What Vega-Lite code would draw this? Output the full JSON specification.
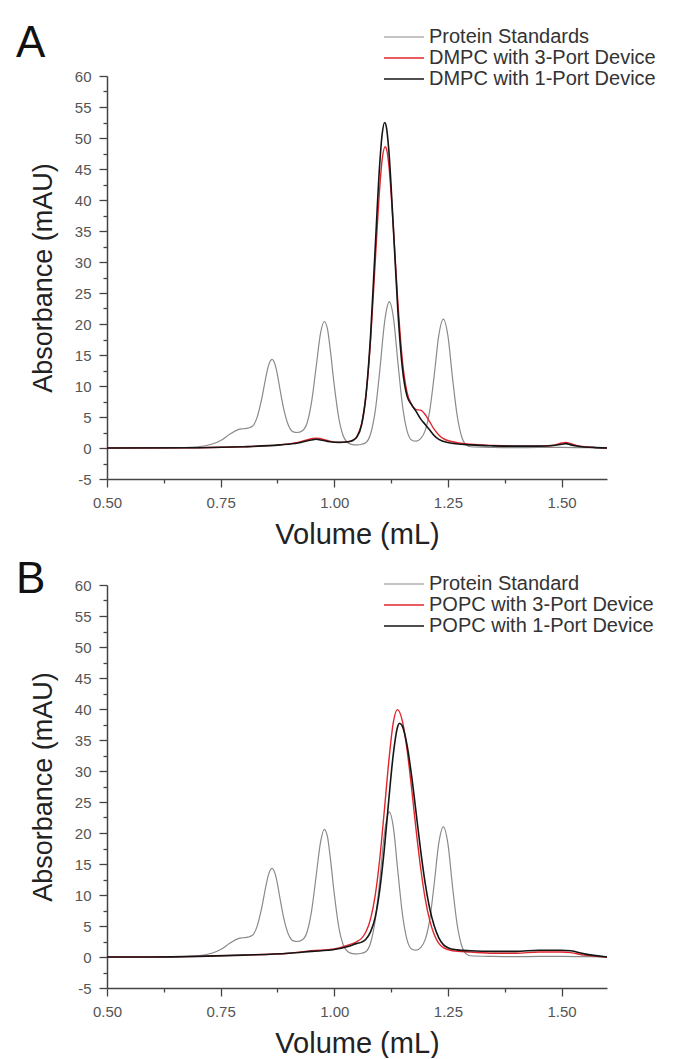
{
  "$schema": "https://vega.github.io/schema/vega-lite/v6.json",
  "background": "white",
  "padding": {"left": 16, "top": 22, "right": 5, "bottom": 0},
  "spacing": 9,
  "config": {
    "view": {"stroke": null},
    "font": "Liberation Sans",
    "axis": {
      "grid": false,
      "domainColor": "#444",
      "domainWidth": 1.5,
      "tickColor": "#444",
      "tickWidth": 1.3,
      "labelColor": "#555",
      "labelFont": "Liberation Sans",
      "labelFontSize": 15,
      "titleColor": "#222",
      "titleFont": "Liberation Sans",
      "titleFontWeight": "normal"
    },
    "legend": {
      "orient": "none",
      "title": null,
      "symbolType": "M-2,0H2",
      "symbolSize": 400,
      "symbolStrokeWidth": 2,
      "labelFont": "Liberation Sans",
      "labelFontSize": 20,
      "labelColor": "#333",
      "labelOffset": 14,
      "labelLimit": 0,
      "rowPadding": 0,
      "padding": 0
    },
    "title": {"font": "Liberation Sans", "fontSize": 44, "fontWeight": "normal", "color": "#111", "anchor": "start", "baseline": "alphabetic", "frame": "group"},
    "line": {"interpolate": "monotone"}
  },
  "datasets": {
    "a": [
      {"v":0.50,"s":"Protein Standards","a":0},{"v":0.60,"s":"Protein Standards","a":0},{"v":0.65,"s":"Protein Standards","a":0.05},{"v":0.70,"s":"Protein Standards","a":0.2},{"v":0.73,"s":"Protein Standards","a":0.6},{"v":0.75,"s":"Protein Standards","a":1.2},{"v":0.77,"s":"Protein Standards","a":2.2},{"v":0.79,"s":"Protein Standards","a":3.0},{"v":0.80,"s":"Protein Standards","a":3.1},{"v":0.81,"s":"Protein Standards","a":3.2},{"v":0.82,"s":"Protein Standards","a":3.5},{"v":0.83,"s":"Protein Standards","a":4.9},{"v":0.84,"s":"Protein Standards","a":7.8},{"v":0.85,"s":"Protein Standards","a":11.6},{"v":0.855,"s":"Protein Standards","a":13.2},{"v":0.863,"s":"Protein Standards","a":14.3},{"v":0.87,"s":"Protein Standards","a":13.4},{"v":0.875,"s":"Protein Standards","a":11.8},{"v":0.88,"s":"Protein Standards","a":9.7},{"v":0.89,"s":"Protein Standards","a":5.9},{"v":0.90,"s":"Protein Standards","a":3.5},{"v":0.91,"s":"Protein Standards","a":2.6},{"v":0.918,"s":"Protein Standards","a":2.5},{"v":0.93,"s":"Protein Standards","a":2.8},{"v":0.94,"s":"Protein Standards","a":4.0},{"v":0.95,"s":"Protein Standards","a":7.4},{"v":0.96,"s":"Protein Standards","a":13.0},{"v":0.97,"s":"Protein Standards","a":18.6},{"v":0.978,"s":"Protein Standards","a":20.4},{"v":0.985,"s":"Protein Standards","a":19.2},{"v":0.99,"s":"Protein Standards","a":16.6},{"v":1.00,"s":"Protein Standards","a":10.1},{"v":1.01,"s":"Protein Standards","a":4.8},{"v":1.02,"s":"Protein Standards","a":1.9},{"v":1.03,"s":"Protein Standards","a":0.85},{"v":1.04,"s":"Protein Standards","a":0.55},{"v":1.05,"s":"Protein Standards","a":0.5},{"v":1.06,"s":"Protein Standards","a":0.6},{"v":1.07,"s":"Protein Standards","a":0.9},{"v":1.08,"s":"Protein Standards","a":2.3},{"v":1.09,"s":"Protein Standards","a":5.9},{"v":1.10,"s":"Protein Standards","a":12.4},{"v":1.11,"s":"Protein Standards","a":19.9},{"v":1.115,"s":"Protein Standards","a":22.3},{"v":1.121,"s":"Protein Standards","a":23.6},{"v":1.13,"s":"Protein Standards","a":21.1},{"v":1.14,"s":"Protein Standards","a":13.8},{"v":1.15,"s":"Protein Standards","a":6.9},{"v":1.16,"s":"Protein Standards","a":2.8},{"v":1.17,"s":"Protein Standards","a":1.3},{"v":1.18,"s":"Protein Standards","a":1.1},{"v":1.19,"s":"Protein Standards","a":1.5},{"v":1.20,"s":"Protein Standards","a":2.8},{"v":1.21,"s":"Protein Standards","a":6.0},{"v":1.22,"s":"Protein Standards","a":11.8},{"v":1.23,"s":"Protein Standards","a":18.2},{"v":1.24,"s":"Protein Standards","a":20.8},{"v":1.25,"s":"Protein Standards","a":18.1},{"v":1.26,"s":"Protein Standards","a":11.4},{"v":1.27,"s":"Protein Standards","a":5.4},{"v":1.28,"s":"Protein Standards","a":1.9},{"v":1.29,"s":"Protein Standards","a":0.5},{"v":1.30,"s":"Protein Standards","a":0.2},{"v":1.35,"s":"Protein Standards","a":0.1},{"v":1.40,"s":"Protein Standards","a":0.05},{"v":1.45,"s":"Protein Standards","a":0.1},{"v":1.50,"s":"Protein Standards","a":0.1},{"v":1.55,"s":"Protein Standards","a":0.05},{"v":1.60,"s":"Protein Standards","a":0},

      {"v":0.50,"s":"DMPC with 3-Port Device","a":0},{"v":0.70,"s":"DMPC with 3-Port Device","a":0.05},{"v":0.80,"s":"DMPC with 3-Port Device","a":0.2},{"v":0.88,"s":"DMPC with 3-Port Device","a":0.5},{"v":0.92,"s":"DMPC with 3-Port Device","a":0.9},{"v":0.95,"s":"DMPC with 3-Port Device","a":1.5},{"v":0.96,"s":"DMPC with 3-Port Device","a":1.6},{"v":0.97,"s":"DMPC with 3-Port Device","a":1.5},{"v":0.99,"s":"DMPC with 3-Port Device","a":1.1},{"v":1.01,"s":"DMPC with 3-Port Device","a":0.9},{"v":1.03,"s":"DMPC with 3-Port Device","a":1.0},{"v":1.04,"s":"DMPC with 3-Port Device","a":1.2},{"v":1.05,"s":"DMPC with 3-Port Device","a":1.9},{"v":1.06,"s":"DMPC with 3-Port Device","a":3.9},{"v":1.07,"s":"DMPC with 3-Port Device","a":8.7},{"v":1.08,"s":"DMPC with 3-Port Device","a":17.5},{"v":1.09,"s":"DMPC with 3-Port Device","a":29.9},{"v":1.10,"s":"DMPC with 3-Port Device","a":42.0},{"v":1.105,"s":"DMPC with 3-Port Device","a":46.3},{"v":1.112,"s":"DMPC with 3-Port Device","a":48.6},{"v":1.115,"s":"DMPC with 3-Port Device","a":48.2},{"v":1.12,"s":"DMPC with 3-Port Device","a":45.7},{"v":1.13,"s":"DMPC with 3-Port Device","a":35.5},{"v":1.14,"s":"DMPC with 3-Port Device","a":23.4},{"v":1.15,"s":"DMPC with 3-Port Device","a":14.0},{"v":1.16,"s":"DMPC with 3-Port Device","a":9.0},{"v":1.17,"s":"DMPC with 3-Port Device","a":7.0},{"v":1.18,"s":"DMPC with 3-Port Device","a":6.2},{"v":1.19,"s":"DMPC with 3-Port Device","a":6.1},{"v":1.20,"s":"DMPC with 3-Port Device","a":5.4},{"v":1.21,"s":"DMPC with 3-Port Device","a":4.2},{"v":1.22,"s":"DMPC with 3-Port Device","a":3.0},{"v":1.23,"s":"DMPC with 3-Port Device","a":2.1},{"v":1.24,"s":"DMPC with 3-Port Device","a":1.5},{"v":1.26,"s":"DMPC with 3-Port Device","a":1.0},{"v":1.30,"s":"DMPC with 3-Port Device","a":0.6},{"v":1.35,"s":"DMPC with 3-Port Device","a":0.4},{"v":1.40,"s":"DMPC with 3-Port Device","a":0.3},{"v":1.45,"s":"DMPC with 3-Port Device","a":0.3},{"v":1.48,"s":"DMPC with 3-Port Device","a":0.4},{"v":1.50,"s":"DMPC with 3-Port Device","a":0.8},{"v":1.51,"s":"DMPC with 3-Port Device","a":0.9},{"v":1.52,"s":"DMPC with 3-Port Device","a":0.7},{"v":1.54,"s":"DMPC with 3-Port Device","a":0.3},{"v":1.57,"s":"DMPC with 3-Port Device","a":0.1},{"v":1.60,"s":"DMPC with 3-Port Device","a":0},

      {"v":0.50,"s":"DMPC with 1-Port Device","a":0},{"v":0.70,"s":"DMPC with 1-Port Device","a":0.05},{"v":0.80,"s":"DMPC with 1-Port Device","a":0.2},{"v":0.88,"s":"DMPC with 1-Port Device","a":0.5},{"v":0.92,"s":"DMPC with 1-Port Device","a":0.8},{"v":0.95,"s":"DMPC with 1-Port Device","a":1.3},{"v":0.96,"s":"DMPC with 1-Port Device","a":1.4},{"v":0.97,"s":"DMPC with 1-Port Device","a":1.3},{"v":0.99,"s":"DMPC with 1-Port Device","a":1.0},{"v":1.01,"s":"DMPC with 1-Port Device","a":0.9},{"v":1.03,"s":"DMPC with 1-Port Device","a":1.0},{"v":1.04,"s":"DMPC with 1-Port Device","a":1.2},{"v":1.05,"s":"DMPC with 1-Port Device","a":1.8},{"v":1.06,"s":"DMPC with 1-Port Device","a":3.7},{"v":1.07,"s":"DMPC with 1-Port Device","a":8.7},{"v":1.08,"s":"DMPC with 1-Port Device","a":18.3},{"v":1.09,"s":"DMPC with 1-Port Device","a":32.2},{"v":1.10,"s":"DMPC with 1-Port Device","a":45.8},{"v":1.105,"s":"DMPC with 1-Port Device","a":50.4},{"v":1.111,"s":"DMPC with 1-Port Device","a":52.5},{"v":1.115,"s":"DMPC with 1-Port Device","a":51.6},{"v":1.12,"s":"DMPC with 1-Port Device","a":48.0},{"v":1.13,"s":"DMPC with 1-Port Device","a":35.5},{"v":1.14,"s":"DMPC with 1-Port Device","a":22.0},{"v":1.15,"s":"DMPC with 1-Port Device","a":12.8},{"v":1.16,"s":"DMPC with 1-Port Device","a":8.4},{"v":1.17,"s":"DMPC with 1-Port Device","a":7.0},{"v":1.18,"s":"DMPC with 1-Port Device","a":5.9},{"v":1.19,"s":"DMPC with 1-Port Device","a":4.7},{"v":1.20,"s":"DMPC with 1-Port Device","a":3.8},{"v":1.21,"s":"DMPC with 1-Port Device","a":2.9},{"v":1.22,"s":"DMPC with 1-Port Device","a":2.0},{"v":1.23,"s":"DMPC with 1-Port Device","a":1.4},{"v":1.25,"s":"DMPC with 1-Port Device","a":0.9},{"v":1.30,"s":"DMPC with 1-Port Device","a":0.5},{"v":1.35,"s":"DMPC with 1-Port Device","a":0.35},{"v":1.40,"s":"DMPC with 1-Port Device","a":0.3},{"v":1.45,"s":"DMPC with 1-Port Device","a":0.3},{"v":1.48,"s":"DMPC with 1-Port Device","a":0.4},{"v":1.50,"s":"DMPC with 1-Port Device","a":0.6},{"v":1.51,"s":"DMPC with 1-Port Device","a":0.7},{"v":1.52,"s":"DMPC with 1-Port Device","a":0.5},{"v":1.54,"s":"DMPC with 1-Port Device","a":0.25},{"v":1.57,"s":"DMPC with 1-Port Device","a":0.1},{"v":1.60,"s":"DMPC with 1-Port Device","a":0}
    ],
    "b": [
      {"v":0.50,"s":"Protein Standard","a":0},{"v":0.60,"s":"Protein Standard","a":0},{"v":0.65,"s":"Protein Standard","a":0.05},{"v":0.70,"s":"Protein Standard","a":0.2},{"v":0.73,"s":"Protein Standard","a":0.6},{"v":0.75,"s":"Protein Standard","a":1.2},{"v":0.77,"s":"Protein Standard","a":2.2},{"v":0.79,"s":"Protein Standard","a":3.0},{"v":0.80,"s":"Protein Standard","a":3.1},{"v":0.81,"s":"Protein Standard","a":3.2},{"v":0.82,"s":"Protein Standard","a":3.5},{"v":0.83,"s":"Protein Standard","a":4.9},{"v":0.84,"s":"Protein Standard","a":7.8},{"v":0.85,"s":"Protein Standard","a":11.6},{"v":0.855,"s":"Protein Standard","a":13.2},{"v":0.863,"s":"Protein Standard","a":14.3},{"v":0.87,"s":"Protein Standard","a":13.4},{"v":0.875,"s":"Protein Standard","a":11.8},{"v":0.88,"s":"Protein Standard","a":9.7},{"v":0.89,"s":"Protein Standard","a":5.9},{"v":0.90,"s":"Protein Standard","a":3.5},{"v":0.91,"s":"Protein Standard","a":2.6},{"v":0.918,"s":"Protein Standard","a":2.5},{"v":0.93,"s":"Protein Standard","a":2.8},{"v":0.94,"s":"Protein Standard","a":4.0},{"v":0.95,"s":"Protein Standard","a":7.4},{"v":0.96,"s":"Protein Standard","a":13.0},{"v":0.97,"s":"Protein Standard","a":18.6},{"v":0.978,"s":"Protein Standard","a":20.6},{"v":0.985,"s":"Protein Standard","a":19.4},{"v":0.99,"s":"Protein Standard","a":16.8},{"v":1.00,"s":"Protein Standard","a":10.2},{"v":1.01,"s":"Protein Standard","a":4.8},{"v":1.02,"s":"Protein Standard","a":1.9},{"v":1.03,"s":"Protein Standard","a":0.85},{"v":1.04,"s":"Protein Standard","a":0.55},{"v":1.05,"s":"Protein Standard","a":0.5},{"v":1.06,"s":"Protein Standard","a":0.6},{"v":1.07,"s":"Protein Standard","a":0.9},{"v":1.08,"s":"Protein Standard","a":2.3},{"v":1.09,"s":"Protein Standard","a":5.9},{"v":1.10,"s":"Protein Standard","a":12.3},{"v":1.11,"s":"Protein Standard","a":19.7},{"v":1.115,"s":"Protein Standard","a":22.1},{"v":1.121,"s":"Protein Standard","a":23.4},{"v":1.13,"s":"Protein Standard","a":20.9},{"v":1.14,"s":"Protein Standard","a":13.7},{"v":1.15,"s":"Protein Standard","a":6.9},{"v":1.16,"s":"Protein Standard","a":2.8},{"v":1.17,"s":"Protein Standard","a":1.3},{"v":1.18,"s":"Protein Standard","a":1.1},{"v":1.19,"s":"Protein Standard","a":1.5},{"v":1.20,"s":"Protein Standard","a":2.8},{"v":1.21,"s":"Protein Standard","a":6.0},{"v":1.22,"s":"Protein Standard","a":11.9},{"v":1.23,"s":"Protein Standard","a":18.4},{"v":1.24,"s":"Protein Standard","a":21.0},{"v":1.25,"s":"Protein Standard","a":18.3},{"v":1.26,"s":"Protein Standard","a":11.5},{"v":1.27,"s":"Protein Standard","a":5.4},{"v":1.28,"s":"Protein Standard","a":1.9},{"v":1.29,"s":"Protein Standard","a":0.5},{"v":1.30,"s":"Protein Standard","a":0.2},{"v":1.35,"s":"Protein Standard","a":0.1},{"v":1.40,"s":"Protein Standard","a":0.05},{"v":1.45,"s":"Protein Standard","a":0.1},{"v":1.50,"s":"Protein Standard","a":0.1},{"v":1.55,"s":"Protein Standard","a":0.05},{"v":1.60,"s":"Protein Standard","a":0},

      {"v":0.50,"s":"POPC with 3-Port Device","a":0},{"v":0.60,"s":"POPC with 3-Port Device","a":0},{"v":0.70,"s":"POPC with 3-Port Device","a":0.1},{"v":0.80,"s":"POPC with 3-Port Device","a":0.3},{"v":0.90,"s":"POPC with 3-Port Device","a":0.6},{"v":0.95,"s":"POPC with 3-Port Device","a":1.0},{"v":1.00,"s":"POPC with 3-Port Device","a":1.3},{"v":1.03,"s":"POPC with 3-Port Device","a":1.9},{"v":1.05,"s":"POPC with 3-Port Device","a":2.5},{"v":1.06,"s":"POPC with 3-Port Device","a":3.0},{"v":1.07,"s":"POPC with 3-Port Device","a":4.1},{"v":1.08,"s":"POPC with 3-Port Device","a":6.2},{"v":1.09,"s":"POPC with 3-Port Device","a":9.9},{"v":1.10,"s":"POPC with 3-Port Device","a":15.8},{"v":1.11,"s":"POPC with 3-Port Device","a":23.5},{"v":1.12,"s":"POPC with 3-Port Device","a":31.6},{"v":1.13,"s":"POPC with 3-Port Device","a":37.9},{"v":1.139,"s":"POPC with 3-Port Device","a":39.9},{"v":1.15,"s":"POPC with 3-Port Device","a":38.0},{"v":1.16,"s":"POPC with 3-Port Device","a":33.5},{"v":1.17,"s":"POPC with 3-Port Device","a":27.3},{"v":1.18,"s":"POPC with 3-Port Device","a":20.5},{"v":1.19,"s":"POPC with 3-Port Device","a":14.4},{"v":1.20,"s":"POPC with 3-Port Device","a":9.4},{"v":1.21,"s":"POPC with 3-Port Device","a":5.9},{"v":1.22,"s":"POPC with 3-Port Device","a":3.6},{"v":1.23,"s":"POPC with 3-Port Device","a":2.2},{"v":1.24,"s":"POPC with 3-Port Device","a":1.5},{"v":1.26,"s":"POPC with 3-Port Device","a":1.0},{"v":1.30,"s":"POPC with 3-Port Device","a":0.8},{"v":1.35,"s":"POPC with 3-Port Device","a":0.6},{"v":1.40,"s":"POPC with 3-Port Device","a":0.6},{"v":1.45,"s":"POPC with 3-Port Device","a":0.8},{"v":1.50,"s":"POPC with 3-Port Device","a":0.8},{"v":1.52,"s":"POPC with 3-Port Device","a":0.7},{"v":1.55,"s":"POPC with 3-Port Device","a":0.3},{"v":1.60,"s":"POPC with 3-Port Device","a":0},

      {"v":0.50,"s":"POPC with 1-Port Device","a":0},{"v":0.60,"s":"POPC with 1-Port Device","a":0},{"v":0.70,"s":"POPC with 1-Port Device","a":0.1},{"v":0.80,"s":"POPC with 1-Port Device","a":0.3},{"v":0.90,"s":"POPC with 1-Port Device","a":0.6},{"v":0.95,"s":"POPC with 1-Port Device","a":0.9},{"v":1.00,"s":"POPC with 1-Port Device","a":1.2},{"v":1.03,"s":"POPC with 1-Port Device","a":1.7},{"v":1.05,"s":"POPC with 1-Port Device","a":2.2},{"v":1.06,"s":"POPC with 1-Port Device","a":2.4},{"v":1.07,"s":"POPC with 1-Port Device","a":2.9},{"v":1.08,"s":"POPC with 1-Port Device","a":4.1},{"v":1.09,"s":"POPC with 1-Port Device","a":6.4},{"v":1.10,"s":"POPC with 1-Port Device","a":10.8},{"v":1.11,"s":"POPC with 1-Port Device","a":17.3},{"v":1.12,"s":"POPC with 1-Port Device","a":25.4},{"v":1.13,"s":"POPC with 1-Port Device","a":32.8},{"v":1.14,"s":"POPC with 1-Port Device","a":37.3},{"v":1.144,"s":"POPC with 1-Port Device","a":37.7},{"v":1.15,"s":"POPC with 1-Port Device","a":37.2},{"v":1.16,"s":"POPC with 1-Port Device","a":34.2},{"v":1.17,"s":"POPC with 1-Port Device","a":29.3},{"v":1.18,"s":"POPC with 1-Port Device","a":23.3},{"v":1.19,"s":"POPC with 1-Port Device","a":17.2},{"v":1.20,"s":"POPC with 1-Port Device","a":11.9},{"v":1.21,"s":"POPC with 1-Port Device","a":7.8},{"v":1.22,"s":"POPC with 1-Port Device","a":5.0},{"v":1.23,"s":"POPC with 1-Port Device","a":3.1},{"v":1.24,"s":"POPC with 1-Port Device","a":2.0},{"v":1.25,"s":"POPC with 1-Port Device","a":1.5},{"v":1.27,"s":"POPC with 1-Port Device","a":1.15},{"v":1.30,"s":"POPC with 1-Port Device","a":1.0},{"v":1.35,"s":"POPC with 1-Port Device","a":0.9},{"v":1.40,"s":"POPC with 1-Port Device","a":0.9},{"v":1.45,"s":"POPC with 1-Port Device","a":1.1},{"v":1.50,"s":"POPC with 1-Port Device","a":1.1},{"v":1.52,"s":"POPC with 1-Port Device","a":1.0},{"v":1.55,"s":"POPC with 1-Port Device","a":0.5},{"v":1.60,"s":"POPC with 1-Port Device","a":0}
    ]
  },
  "resolve": {"scale": {"color": "independent", "strokeWidth": "independent"}},
  "vconcat": [
    {
      "width": 500,
      "height": 403,
      "title": {"text": "A", "dx": -91, "offset": -40},
      "data": {"name": "a"},
      "mark": {"type": "line", "interpolate": "monotone"},
      "encoding": {
        "x": {"field": "v", "type": "quantitative", "title": "Volume (mL)",
          "scale": {"domain": [0.5, 1.6], "nice": false, "zero": false},
          "axis": {"values": [0.5, 0.625, 0.75, 0.875, 1.0, 1.125, 1.25, 1.375, 1.5],
            "labelExpr": "abs(datum.value*4 - round(datum.value*4)) < 0.001 ? format(datum.value, '.2f') : ''",
            "tickSize": {"condition": {"test": "abs(datum.value*4 - round(datum.value*4)) > 0.001", "value": 4}, "value": 8},
            "labelPadding": 8, "labelFlush": false, "labelOverlap": false, "titleFontSize": 29, "titlePadding": 10}},
        "y": {"field": "a", "type": "quantitative", "title": "Absorbance (mAU)",
          "scale": {"domain": [-5, 60], "nice": false, "zero": false},
          "axis": {"values": [-5, -2.5, 0, 2.5, 5, 7.5, 10, 12.5, 15, 17.5, 20, 22.5, 25, 27.5, 30, 32.5, 35, 37.5, 40, 42.5, 45, 47.5, 50, 52.5, 55, 57.5, 60],
            "labelExpr": "datum.value % 5 === 0 ? '' + datum.value : ''",
            "tickSize": {"condition": {"test": "datum.value % 5 !== 0", "value": 4}, "value": 8},
            "labelPadding": 8, "labelFlush": false, "labelOverlap": false, "titleFontSize": 27, "titlePadding": 17}},
        "color": {"field": "s", "type": "nominal",
          "scale": {"domain": ["Protein Standards", "DMPC with 3-Port Device", "DMPC with 1-Port Device"], "range": ["#8a8a8a", "#e0262c", "#151515"]},
          "legend": {"legendX": 286, "legendY": -50, "labelLimit": 0, "labelFontSize": 20}},
        "strokeWidth": {"field": "s", "type": "nominal",
          "scale": {"domain": ["Protein Standards", "DMPC with 3-Port Device", "DMPC with 1-Port Device"], "range": [1.2, 1.6, 1.6]},
          "legend": null}
      }
    },
    {
      "width": 500,
      "height": 403,
      "title": {"text": "B", "dx": -91, "offset": -29},
      "data": {"name": "b"},
      "mark": {"type": "line", "interpolate": "monotone"},
      "encoding": {
        "x": {"field": "v", "type": "quantitative", "title": "Volume (mL)",
          "scale": {"domain": [0.5, 1.6], "nice": false, "zero": false},
          "axis": {"values": [0.5, 0.625, 0.75, 0.875, 1.0, 1.125, 1.25, 1.375, 1.5],
            "labelExpr": "abs(datum.value*4 - round(datum.value*4)) < 0.001 ? format(datum.value, '.2f') : ''",
            "tickSize": {"condition": {"test": "abs(datum.value*4 - round(datum.value*4)) > 0.001", "value": 4}, "value": 8},
            "labelPadding": 8, "labelFlush": false, "labelOverlap": false, "titleFontSize": 29, "titlePadding": 10}},
        "y": {"field": "a", "type": "quantitative", "title": "Absorbance (mAU)",
          "scale": {"domain": [-5, 60], "nice": false, "zero": false},
          "axis": {"values": [-5, -2.5, 0, 2.5, 5, 7.5, 10, 12.5, 15, 17.5, 20, 22.5, 25, 27.5, 30, 32.5, 35, 37.5, 40, 42.5, 45, 47.5, 50, 52.5, 55, 57.5, 60],
            "labelExpr": "datum.value % 5 === 0 ? '' + datum.value : ''",
            "tickSize": {"condition": {"test": "datum.value % 5 !== 0", "value": 4}, "value": 8},
            "labelPadding": 8, "labelFlush": false, "labelOverlap": false, "titleFontSize": 27, "titlePadding": 17}},
        "color": {"field": "s", "type": "nominal",
          "scale": {"domain": ["Protein Standard", "POPC with 3-Port Device", "POPC with 1-Port Device"], "range": ["#8a8a8a", "#e0262c", "#151515"]},
          "legend": {"legendX": 286, "legendY": -12, "labelLimit": 0, "labelFontSize": 20}},
        "strokeWidth": {"field": "s", "type": "nominal",
          "scale": {"domain": ["Protein Standard", "POPC with 3-Port Device", "POPC with 1-Port Device"], "range": [1.2, 1.6, 1.6]},
          "legend": null}
      }
    }
  ]
}
